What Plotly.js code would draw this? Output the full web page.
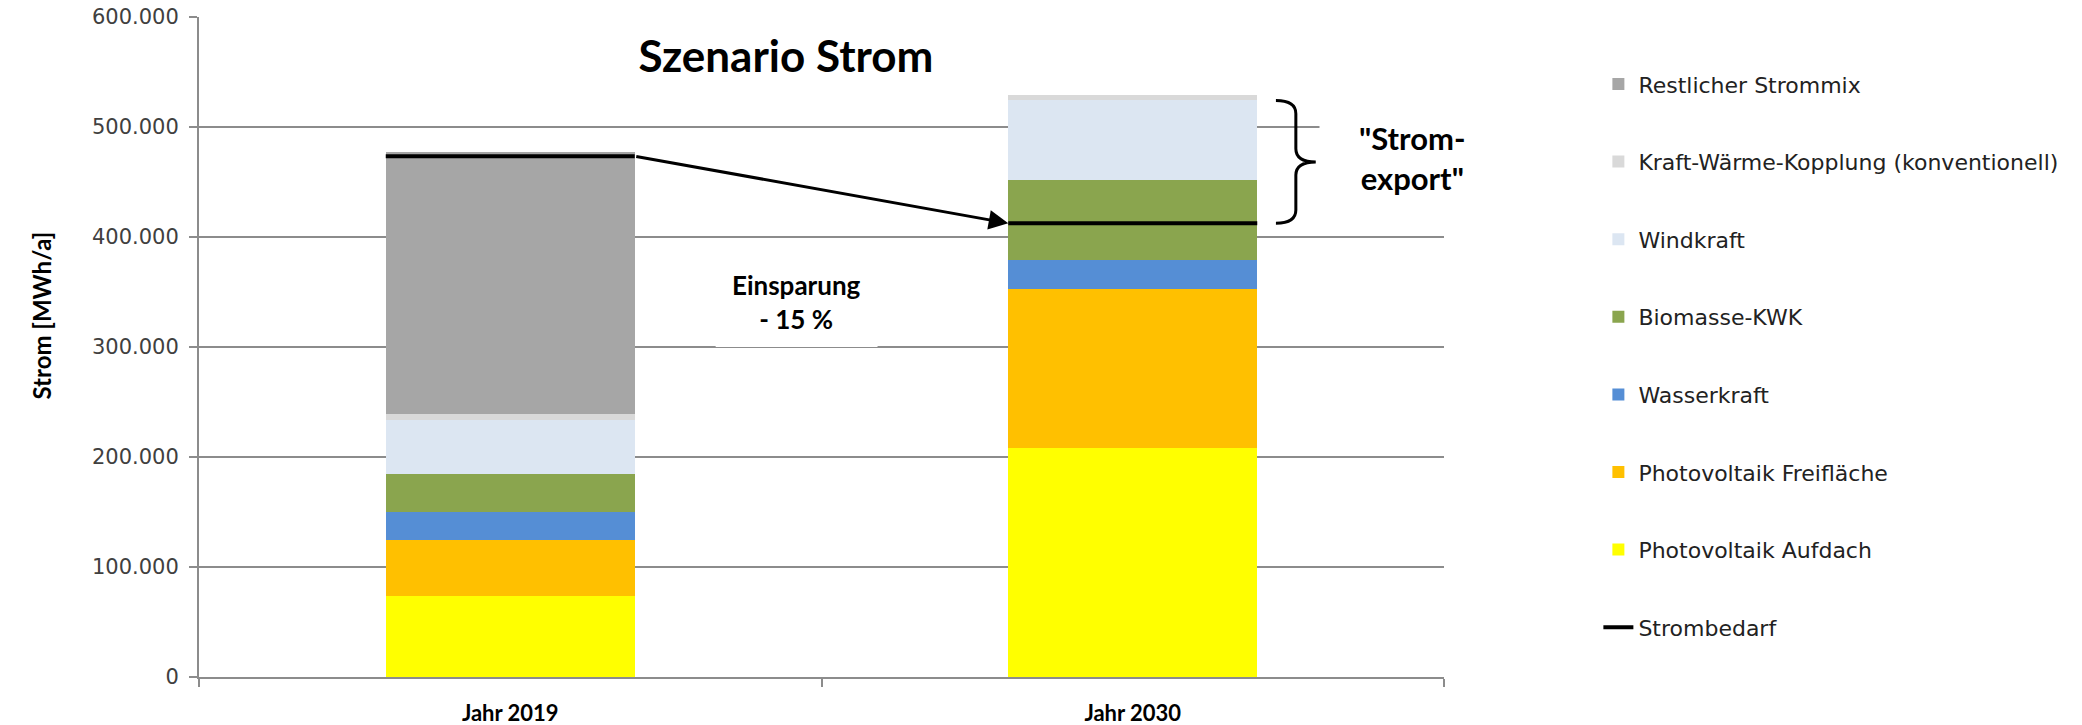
<!DOCTYPE html>
<html>
<head>
<meta charset="utf-8">
<script src="https://cdn.plot.ly/plotly-3.0.1.min.js"></script>
<style>html,body{margin:0;padding:0;background:#fff;}#chart{width:2082px;height:725px;}</style>
</head>
<body>
<div id="chart"></div>
<script>
// ---- data ----
var categories = ['Jahr 2019', 'Jahr 2030'];
var seriesNames = ['Photovoltaik Aufdach', 'Photovoltaik Freifläche', 'Wasserkraft', 'Biomasse-KWK', 'Windkraft', 'Kraft-Wärme-Kopplung (konventionell)', 'Restlicher Strommix'];
var pvAufdach = [73500, 208000];
var pvFreiflaeche = [51000, 144500];
var wasserkraft = [25500, 26500];
var biomasseKWK = [35000, 72500];
var windkraft = [49000, 73000];
var kwkKonv = [5000, 4500];
var restStrommix = [238000, 0];
var strombedarf = [473500, 412500];
var yTickVals = [0, 100000, 200000, 300000, 400000, 500000, 600000];

// ---- styling ----
var colors = ['#ffff00', '#ffc000', '#558ed5', '#8aa54e', '#dce6f2', '#d9d9d9', '#a6a6a6'];
var seriesValues = [pvAufdach, pvFreiflaeche, wasserkraft, biomasseKWK, windkraft, kwkKonv, restStrommix];
var xPos = categories.map(function (c, i) { return i; });
var barWidth = 0.4;
var half = barWidth / 2;
var gridCol = '#8c8c8c';
var txtCol = '#404040';
var boldFam = 'Lato, "Open Sans", sans-serif';

var traces = [];
seriesValues.forEach(function (vals, k) {
  traces.push({
    type: 'bar', name: seriesNames[k], x: xPos, y: vals, width: barWidth,
    marker: {color: colors[k], line: {width: 0}},
    legendgroup: 'g' + k, legendrank: seriesValues.length - k,
    hoverinfo: 'name+y'
  });
});
// Strombedarf line across each bar
var lx = [], ly = [];
strombedarf.forEach(function (v, i) {
  lx.push(xPos[i] - half, xPos[i] + half, null);
  ly.push(v, v, null);
});
traces.push({
  type: 'scatter', mode: 'lines', name: 'Strombedarf', x: lx, y: ly,
  line: {color: '#000', width: 4}, legendgroup: 'gs', legendrank: 20,
  connectgaps: false
});

var total2030 = seriesValues.reduce(function (s, arr) { return s + arr[1]; }, 0);
var bTop = total2030 - 5000, bBot = strombedarf[1];
var bMid = (bTop + bBot) / 2;
var bx0 = xPos[1] + half + 0.03, bx1 = bx0 + 0.032, bx2 = bx1 + 0.032;
var cy = 12000;
var bracePath = 'M' + bx0 + ',' + bTop +
  ' Q' + bx1 + ',' + bTop + ' ' + bx1 + ',' + (bTop - cy) +
  ' L' + bx1 + ',' + (bMid + cy) +
  ' Q' + bx1 + ',' + bMid + ' ' + bx2 + ',' + bMid +
  ' Q' + bx1 + ',' + bMid + ' ' + bx1 + ',' + (bMid - cy) +
  ' L' + bx1 + ',' + (bBot + cy) +
  ' Q' + bx1 + ',' + bBot + ' ' + bx0 + ',' + bBot;

var layout = {
  width: 2082, height: 725,
  margin: {l: 199, r: 638, t: 17, b: 48},
  paper_bgcolor: '#fff', plot_bgcolor: '#fff',
  separators: ',.',
  barmode: 'stack',
  showlegend: true,
  font: {family: '"DejaVu Sans", Verdana, sans-serif', size: 20, color: txtCol},
  title: {
    text: 'Szenario Strom', x: 786 / 2082, xanchor: 'center', xref: 'container',
    y: 1 - 57 / 725, yanchor: 'middle', yref: 'container',
    font: {family: boldFam, size: 44, color: '#000', weight: 700}
  },
  xaxis: {
    range: [-0.5, 1.5], tickmode: 'array', tickvals: xPos, ticktext: categories,
    ticks: '', showgrid: false, zeroline: false,
    showline: true, linecolor: gridCol, linewidth: 2,
    ticklabelstandoff: 16,
    tickfont: {family: boldFam, size: 22, color: '#000', weight: 700},
    minor: {tickmode: 'array', tickvals: [-0.5, 0.5, 1.5], ticks: 'outside', ticklen: 8, tickcolor: gridCol, tickwidth: 2, showgrid: false},
    fixedrange: true
  },
  yaxis: {
    range: [0, 600000], tickmode: 'array', tickvals: yTickVals, tickformat: ',d',
    ticks: 'outside', ticklen: 8, tickcolor: gridCol, tickwidth: 2,
    ticklabelstandoff: 6,
    showgrid: true, gridcolor: gridCol, gridwidth: 2, zeroline: false,
    showline: true, linecolor: gridCol, linewidth: 2,
    tickfont: {size: 21, color: txtCol},
    fixedrange: true
  },
  legend: {
    x: 1.124, xanchor: 'left', y: 0.93, yanchor: 'top',
    traceorder: 'grouped', tracegroupgap: 46,
    font: {size: 22, color: '#222'}, bgcolor: 'rgba(0,0,0,0)'
  },
  shapes: [
    {type: 'rect', layer: 'between', xref: 'x', yref: 'y', x0: 0.33, x1: 0.59, y0: 300000, y1: 390000, fillcolor: '#fff', line: {width: 0}},
    {type: 'rect', layer: 'between', xref: 'x', yref: 'y', x0: 1.30, x1: 1.5, y0: 420000, y1: 560000, fillcolor: '#fff', line: {width: 0}},
    {type: 'path', xref: 'x', yref: 'y', path: bracePath, line: {color: '#000', width: 3}}
  ],
  annotations: [
    {x: -0.14, y: 0.548, xref: 'paper', yref: 'paper', text: 'Strom [MWh/a]', textangle: -90, showarrow: false,
     font: {family: boldFam, size: 24, color: '#000', weight: 700}},
    {x: xPos[1] - half, y: strombedarf[1], ax: xPos[0] + half, ay: strombedarf[0],
     xref: 'x', yref: 'y', axref: 'x', ayref: 'y', text: '', showarrow: true,
     arrowhead: 2, arrowsize: 1.3, arrowwidth: 3, arrowcolor: '#000', standoff: 0, startstandoff: 0},
    {x: 0.46, y: 341000, xref: 'x', yref: 'y', text: 'Einsparung<br>- 15 %', showarrow: false,
     font: {family: boldFam, size: 26, color: '#000', weight: 700}, align: 'center'},
    {x: 1.45, y: 472000, xref: 'x', yref: 'y', text: '"Strom-<br>export"', showarrow: false,
     font: {family: boldFam, size: 31, color: '#000', weight: 700}, align: 'center'}
  ]
};

Plotly.newPlot('chart', traces, layout, {displayModeBar: false, staticPlot: true});
</script>
</body>
</html>
